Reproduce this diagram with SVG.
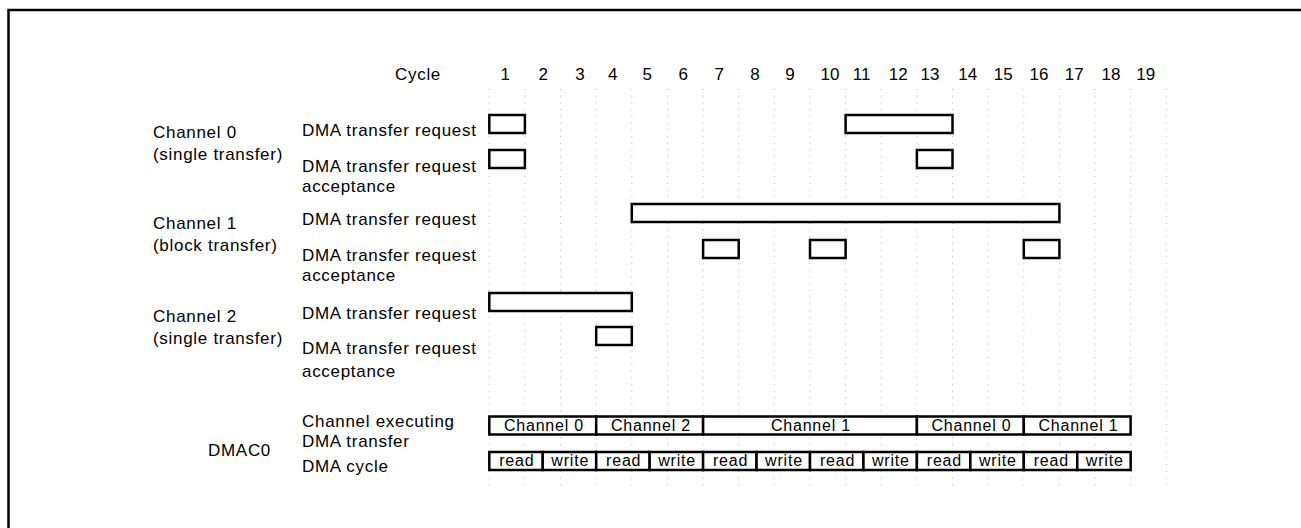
<svg xmlns="http://www.w3.org/2000/svg" width="1301" height="528" viewBox="0 0 1301 528">
<style>
  text { font-family: "Liberation Sans", Arial, sans-serif; fill: #000; }
  .lbl { font-size: 17px; letter-spacing: 0.7px; }
  .num { font-size: 17px; text-anchor: middle; }
  .cell { font-size: 16px; letter-spacing: 0.8px; text-anchor: middle; }
  .box { fill: #fff; stroke: #000; stroke-width: 2.5; }
  .grid line { stroke: #b4b4b4; stroke-width: 1; stroke-dasharray: 1 5.7; }
</style>
<rect x="0" y="0" width="1301" height="528" fill="#fff"/>
<path d="M8.5 528 V10 H1301" fill="none" stroke="#000" stroke-width="2.5"/>

<g id="grid" class="grid">
  <line x1="489.3" y1="89" x2="489.3" y2="488"/>
  <line x1="524.9" y1="89" x2="524.9" y2="488"/>
  <line x1="560.6" y1="89" x2="560.6" y2="488"/>
  <line x1="596.2" y1="89" x2="596.2" y2="488"/>
  <line x1="631.8" y1="89" x2="631.8" y2="488"/>
  <line x1="667.5" y1="89" x2="667.5" y2="488"/>
  <line x1="703.1" y1="89" x2="703.1" y2="488"/>
  <line x1="738.7" y1="89" x2="738.7" y2="488"/>
  <line x1="774.3" y1="89" x2="774.3" y2="488"/>
  <line x1="810" y1="89" x2="810" y2="488"/>
  <line x1="845.6" y1="89" x2="845.6" y2="488"/>
  <line x1="881.2" y1="89" x2="881.2" y2="488"/>
  <line x1="916.9" y1="89" x2="916.9" y2="488"/>
  <line x1="952.5" y1="89" x2="952.5" y2="488"/>
  <line x1="988.1" y1="89" x2="988.1" y2="488"/>
  <line x1="1023.8" y1="89" x2="1023.8" y2="488"/>
  <line x1="1059.4" y1="89" x2="1059.4" y2="488"/>
  <line x1="1095" y1="89" x2="1095" y2="488"/>
  <line x1="1130.6" y1="89" x2="1130.6" y2="488"/>
  <line x1="1166.3" y1="89" x2="1166.3" y2="488"/>
</g>

<g id="cycle-header">
  <text class="lbl" x="395" y="80">Cycle</text>
  <text class="num" x="505.3" y="79.5">1</text>
  <text class="num" x="543.3" y="79.5">2</text>
  <text class="num" x="580" y="79.5">3</text>
  <text class="num" x="612.7" y="79.5">4</text>
  <text class="num" x="647.3" y="79.5">5</text>
  <text class="num" x="683.3" y="79.5">6</text>
  <text class="num" x="719.3" y="79.5">7</text>
  <text class="num" x="755" y="79.5">8</text>
  <text class="num" x="790" y="79.5">9</text>
  <text class="num" x="830" y="79.5">10</text>
  <text class="num" x="861.7" y="79.5">11</text>
  <text class="num" x="898.3" y="79.5">12</text>
  <text class="num" x="930" y="79.5">13</text>
  <text class="num" x="967.7" y="79.5">14</text>
  <text class="num" x="1003.3" y="79.5">15</text>
  <text class="num" x="1039" y="79.5">16</text>
  <text class="num" x="1074.3" y="79.5">17</text>
  <text class="num" x="1111" y="79.5">18</text>
  <text class="num" x="1145.7" y="79.5">19</text>
</g>

<g id="channel0">
  <text class="lbl" x="153" y="138">Channel 0</text>
  <text class="lbl" x="153" y="160">(single transfer)</text>
  <text class="lbl" x="302" y="136">DMA transfer request</text>
  <text class="lbl" x="302" y="172">DMA transfer request</text>
  <text class="lbl" x="302" y="192">acceptance</text>
  <rect class="box" x="489.3" y="115" width="35.6" height="18"/>
  <rect class="box" x="845.6" y="115" width="106.9" height="18"/>
  <rect class="box" x="489.3" y="150" width="35.6" height="18"/>
  <rect class="box" x="916.9" y="150" width="35.6" height="18"/>
</g>

<g id="channel1">
  <text class="lbl" x="153" y="228.5">Channel 1</text>
  <text class="lbl" x="153" y="250.5">(block transfer)</text>
  <text class="lbl" x="302" y="224.5">DMA transfer request</text>
  <text class="lbl" x="302" y="261">DMA transfer request</text>
  <text class="lbl" x="302" y="281">acceptance</text>
  <rect class="box" x="631.8" y="204" width="427.6" height="18"/>
  <rect class="box" x="703.1" y="240" width="35.6" height="18"/>
  <rect class="box" x="810" y="240" width="35.6" height="18"/>
  <rect class="box" x="1023.8" y="240" width="35.6" height="18"/>
</g>

<g id="channel2">
  <text class="lbl" x="153" y="321.5">Channel 2</text>
  <text class="lbl" x="153" y="343.5">(single transfer)</text>
  <text class="lbl" x="302" y="319">DMA transfer request</text>
  <text class="lbl" x="302" y="354">DMA transfer request</text>
  <text class="lbl" x="302" y="376.5">acceptance</text>
  <rect class="box" x="489.3" y="293" width="142.5" height="18"/>
  <rect class="box" x="596.2" y="327" width="35.6" height="18"/>
</g>

<g id="dmac0">
  <text class="lbl" x="208" y="455.5">DMAC0</text>
  <text class="lbl" x="302" y="426.5">Channel executing</text>
  <text class="lbl" x="302" y="446.5">DMA transfer</text>
  <text class="lbl" x="302" y="471.5">DMA cycle</text>
</g>

<g id="executing-row">
  <rect class="box" x="489.3" y="416.5" width="106.9" height="18"/>
  <rect class="box" x="596.2" y="416.5" width="106.9" height="18"/>
  <rect class="box" x="703.1" y="416.5" width="213.8" height="18"/>
  <rect class="box" x="916.9" y="416.5" width="106.9" height="18"/>
  <rect class="box" x="1023.8" y="416.5" width="106.8" height="18"/>
  <text class="cell" x="544" y="431">Channel 0</text>
  <text class="cell" x="651" y="431">Channel 2</text>
  <text class="cell" x="811" y="431">Channel 1</text>
  <text class="cell" x="971.5" y="431">Channel 0</text>
  <text class="cell" x="1078.5" y="431">Channel 1</text>
</g>

<g id="cycle-row">
  <rect class="box" x="489.3" y="452" width="53.45" height="18"/>
  <rect class="box" x="542.75" y="452" width="53.45" height="18"/>
  <rect class="box" x="596.2" y="452" width="53.45" height="18"/>
  <rect class="box" x="649.65" y="452" width="53.45" height="18"/>
  <rect class="box" x="703.1" y="452" width="53.45" height="18"/>
  <rect class="box" x="756.55" y="452" width="53.45" height="18"/>
  <rect class="box" x="810" y="452" width="53.45" height="18"/>
  <rect class="box" x="863.45" y="452" width="53.45" height="18"/>
  <rect class="box" x="916.9" y="452" width="53.45" height="18"/>
  <rect class="box" x="970.35" y="452" width="53.45" height="18"/>
  <rect class="box" x="1023.8" y="452" width="53.45" height="18"/>
  <rect class="box" x="1077.25" y="452" width="53.4" height="18"/>
  <text class="cell" x="516.8" y="466">read</text>
  <text class="cell" x="570.2" y="466">write</text>
  <text class="cell" x="623.7" y="466">read</text>
  <text class="cell" x="677.1" y="466">write</text>
  <text class="cell" x="730.6" y="466">read</text>
  <text class="cell" x="784" y="466">write</text>
  <text class="cell" x="837.5" y="466">read</text>
  <text class="cell" x="890.9" y="466">write</text>
  <text class="cell" x="944.4" y="466">read</text>
  <text class="cell" x="997.8" y="466">write</text>
  <text class="cell" x="1051.3" y="466">read</text>
  <text class="cell" x="1104.7" y="466">write</text>
</g>
</svg>
